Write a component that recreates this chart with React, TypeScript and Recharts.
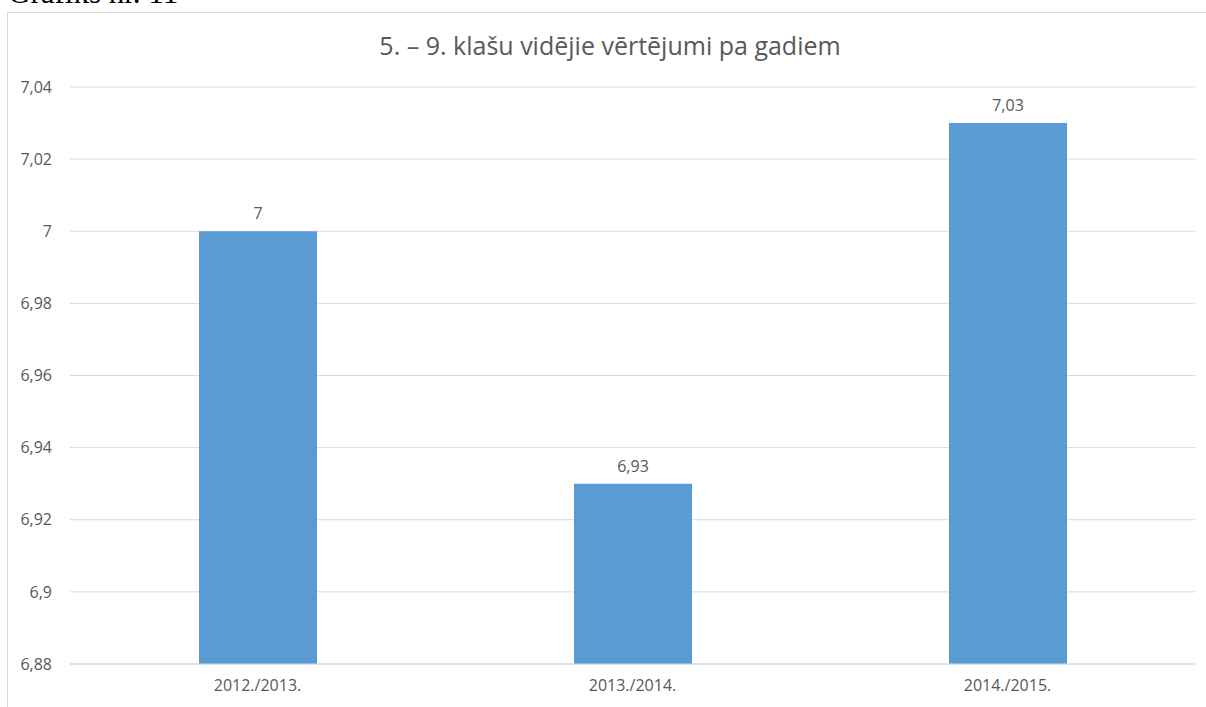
import React from 'react'
import { BarChart, Bar, XAxis, YAxis, CartesianGrid, LabelList } from 'recharts'

const years = ['2012./2013.', '2013./2014.', '2014./2015.']
const averages = [7.0, 6.93, 7.03]
const yTicks = [6.88, 6.9, 6.92, 6.94, 6.96, 6.98, 7.0, 7.02, 7.04]

const data = years.map((name, i) => ({ name, value: averages[i] }))

// Latvian style: comma as decimal separator, trailing zeros dropped
const fmt = (v: number) => String(Number(v.toFixed(2))).replace('.', ',')

const textColor = '#595959'
const font = '"Open Sans", sans-serif'

export default function App() {
  return (
    <div
      style={{
        position: 'absolute',
        left: 0,
        top: 0,
        width: 1206,
        height: 707,
        overflow: 'hidden',
        background: '#fff',
      }}
    >
      {/* caption above the chart, cut off by the page edge like in the scan */}
      <div
        style={{
          position: 'absolute',
          left: 8,
          top: -23,
          fontFamily: '"Liberation Serif", serif',
          fontSize: 31,
          lineHeight: 1,
          color: '#000',
          whiteSpace: 'nowrap',
        }}
      >
        Grafiks nr. 11
      </div>

      {/* chart frame */}
      <div
        style={{
          position: 'absolute',
          left: 7,
          top: 12,
          width: 1300,
          height: 800,
          border: '1px solid #d9d9d9',
        }}
      />

      <div
        style={{
          position: 'absolute',
          left: 0,
          top: 33,
          width: 1220,
          textAlign: 'center',
          fontFamily: font,
          fontSize: 25,
          lineHeight: 1,
          color: textColor,
        }}
      >
        5. – 9. klašu vidējie vērtējumi pa gadiem
      </div>

      <div style={{ position: 'absolute', left: 0, top: 0 }}>
        <BarChart
          width={1206}
          height={707}
          data={data}
          margin={{ top: 87, right: 11, left: 10, bottom: 13 }}
        >
          <CartesianGrid vertical={false} stroke="#d9d9d9" />
          <XAxis
            dataKey="name"
            height={30}
            tickLine={false}
            tickSize={0}
            tickMargin={16}
            axisLine={{ stroke: '#d9d9d9' }}
            tick={{ fill: textColor, fontSize: 16, fontFamily: font }}
          />
          <YAxis
            width={60}
            domain={[6.88, 7.04]}
            ticks={yTicks}
            interval={0}
            tickFormatter={fmt}
            axisLine={false}
            tickLine={false}
            tickSize={0}
            tickMargin={18}
            tick={{ fill: textColor, fontSize: 16, fontFamily: font }}
          />
          <Bar dataKey="value" fill="#5b9bd5" barSize={118} isAnimationActive={false}>
            <LabelList
              dataKey="value"
              position="top"
              offset={12}
              formatter={(v: any) => fmt(Number(v))}
              style={{ fill: textColor, fontSize: 16, fontFamily: font }}
            />
          </Bar>
        </BarChart>
      </div>
    </div>
  )
}
